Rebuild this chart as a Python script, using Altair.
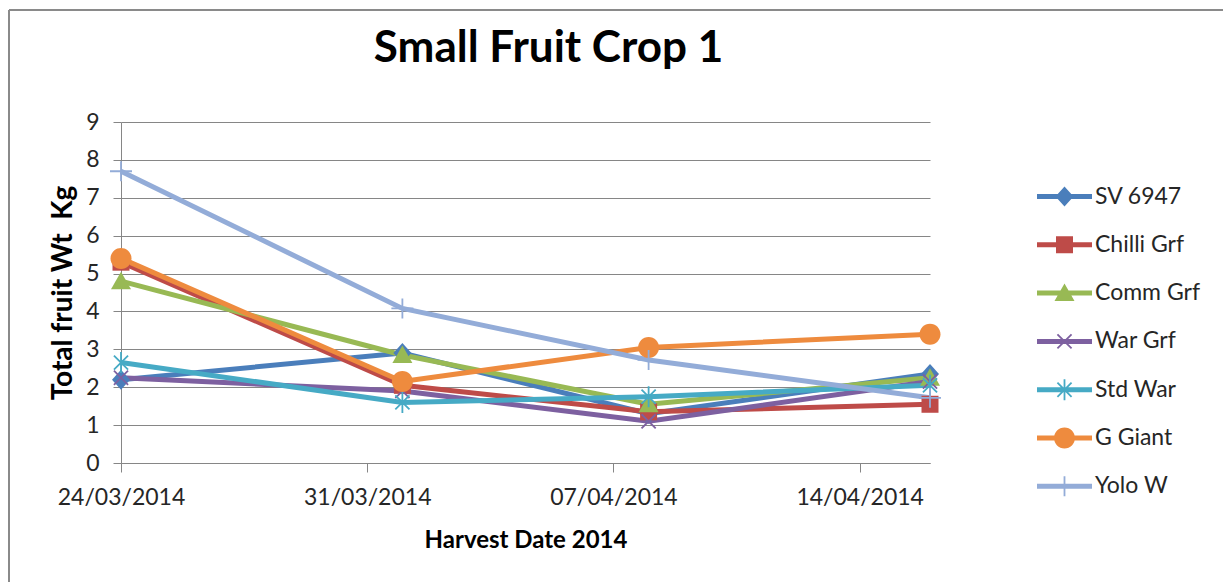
import math
import altair as alt
import pandas as pd

# ---------------- data ----------------
dates = ["2014-03-24", "2014-04-01", "2014-04-08", "2014-04-16"]
series = ["SV 6947", "Chilli Grf", "Comm Grf", "\u00a0War Grf", "Std War", "G Giant", "Yolo W"]
sv_6947 = [2.2, 2.9, 1.3, 2.35]
chilli_grf = [5.3, 2.05, 1.35, 1.55]
comm_grf = [4.8, 2.85, 1.55, 2.25]
war_grf = [2.25, 1.9, 1.1, 2.15]
std_war = [2.65, 1.6, 1.75, 2.05]
g_giant = [5.4, 2.15, 3.05, 3.4]
yolo_w = [7.7, 4.08, 2.72, 1.72]
x_ticks = ["2014-03-24", "2014-03-31", "2014-04-07", "2014-04-14"]
y_ticks = [0, 1, 2, 3, 4, 5, 6, 7, 8, 9]

colors = ["#4A7EBB", "#BE4B48", "#98B954", "#7D60A0", "#46AAC5", "#EE8B3E", "#93ACD8"]

values = [sv_6947, chilli_grf, comm_grf, war_grf, std_war, g_giant, yolo_w]
rows = []
for s, vals in zip(series, values):
    for d, v in zip(dates, vals):
        rows.append({"series": s, "date": d, "value": v})
df = pd.DataFrame(rows)

# ---------------- marker geometry (style only) ----------------
def rect(hw, hh, ang=0.0):
    a = math.radians(ang)
    ca, sa = math.cos(a), math.sin(a)
    pts = [(-hw, -hh), (hw, -hh), (hw, hh), (-hw, hh)]
    pts = [(x * ca - y * sa, x * sa + y * ca) for x, y in pts]
    return pts

def poly(pts, u):
    return "M" + "L".join(f"{x/u:.4f},{y/u:.4f}" for x, y in pts) + "Z"

def circle(r, u):
    r = r / u
    return f"M{-r:.4f},0A{r:.4f},{r:.4f} 0 1,1 {r:.4f},0A{r:.4f},{r:.4f} 0 1,1 {-r:.4f},0Z"

def marker(kind, u):
    t = 0.9
    if kind == "diamond":
        return poly([(0, -10), (9, 0), (0, 10), (-9, 0)], u)
    if kind == "square":
        return poly(rect(8.5, 8.5), u)
    if kind == "triangle":
        return poly([(0, -9.5), (10, 8), (-10, 8)], u)
    if kind == "circle":
        return circle(10.5, u)
    if kind == "x":
        return poly(rect(10, t, 45), u) + poly(rect(10, t, -45), u)
    if kind == "asterisk":
        return poly(rect(10, t, 45), u) + poly(rect(10, t, -45), u) + poly(rect(t, 10.5), u)
    if kind == "plus":
        return poly(rect(11, t), u) + poly(rect(t, 10), u)

kinds = ["diamond", "square", "triangle", "x", "asterisk", "circle", "plus"]
PLOT_SIZE = 400   # unit = 10 px
LEG_SIZE = 900    # unit = 15 px
plot_shapes = [marker(k, 10) for k in kinds]
leg_shapes = [poly(rect(27.5, 2.5), 15) + marker(k, 15) for k in kinds]

FONT = "Lato"
TXT = "#262626"
GRID = "#868686"

x_enc = alt.X(
    "date:T",
    scale=alt.Scale(
        type="utc",
        domain=[alt.DateTime(year=2014, month=3, date=24, utc=True),
                alt.DateTime(year=2014, month=4, date=16, utc=True)],
    ),
    axis=alt.Axis(
        values=[alt.DateTime(year=int(d[:4]), month=int(d[5:7]), date=int(d[8:]), utc=True) for d in x_ticks],
        format="%d/%m/%Y",
        title="Harvest Date 2014",
        grid=False,
        labelFlush=False,
        labelOverlap=False,
        tickSize=9,
        labelPadding=14,
        titlePadding=19,
        titleFontSize=24,
    ),
)
y_enc = alt.Y(
    "value:Q",
    scale=alt.Scale(domain=[0, 9], nice=False),
    axis=alt.Axis(
        values=y_ticks,
        title="Total fruit Wt\u00a0 Kg",
        grid=True,
        tickSize=8,
        labelPadding=14,
        titlePadding=8,
        titleFontSize=28,
    ),
)

base = alt.Chart(df)

lines = base.mark_line(strokeWidth=5).encode(
    x=x_enc,
    y=y_enc,
    color=alt.Color("series:N", scale=alt.Scale(domain=series, range=colors), legend=None),
    detail="series:N",
)

points = base.mark_point(filled=True, opacity=1, strokeWidth=0, size=PLOT_SIZE).encode(
    x=x_enc,
    y=y_enc,
    color=alt.Color("series:N", scale=alt.Scale(domain=series, range=colors), legend=None),
    shape=alt.Shape("series:N", scale=alt.Scale(domain=series, range=plot_shapes), legend=None),
)

legend = alt.Legend(
    title=None,
    orient="none",
    legendX=928.5,
    legendY=59.5,
    symbolSize=LEG_SIZE,
    symbolStrokeWidth=0,
    symbolOpacity=1,
    labelFont=FONT,
    labelFontSize=23,
    labelColor=TXT,
    labelOffset=15.5,
    rowPadding=21.3,
    padding=0,
)

legend_layer = base.mark_point(filled=True, opacity=1, strokeWidth=0, size=LEG_SIZE).encode(
    x=x_enc,
    y=y_enc,
    color=alt.Color("series:N", scale=alt.Scale(domain=series, range=colors), legend=legend),
    shape=alt.Shape("series:N", scale=alt.Scale(domain=series, range=leg_shapes), legend=legend),
).transform_filter("false")

frame_top = alt.Chart(alt.Data(values=[{}])).mark_rule(color="#8a8a8a", strokeWidth=2).encode(
    x=alt.value(-112), x2=alt.value(1102), y=alt.value(-112)
)
frame_left = alt.Chart(alt.Data(values=[{}])).mark_rule(color="#8a8a8a", strokeWidth=2).encode(
    x=alt.value(-112), y=alt.value(-112), y2=alt.value(460)
)

chart = (
    alt.layer(lines, points, legend_layer, frame_top, frame_left)
    .resolve_scale(color="independent", shape="independent")
    .properties(
        width=809,
        height=341,
        autosize=alt.AutoSizeParams(type="none"),
        padding={"left": 113, "top": 114, "right": 293, "bottom": 119},
        title=alt.TitleParams(
            "Small Fruit Crop 1",
            font=FONT,
            fontSize=44,
            fontWeight="bold",
            color="#000000",
            anchor="middle",
            frame="group",
            baseline="alphabetic",
            dx=23,
            offset=-97,
        ),
    )
    .configure_view(stroke=None)
    .configure_axis(
        labelFont=FONT,
        labelFontSize=23,
        labelColor=TXT,
        titleFont=FONT,
        titleFontWeight="bold",
        titleColor="#000000",
        domainColor=GRID,
        tickColor=GRID,
        gridColor=GRID,
        domainWidth=1,
        tickWidth=1,
        gridWidth=1,
    )
)

chart.save("out.html", embed_options={"renderer": "svg", "actions": False})
